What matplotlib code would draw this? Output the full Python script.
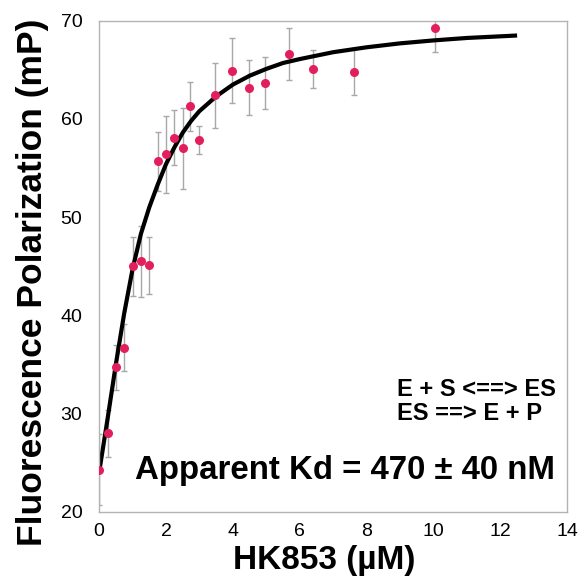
import matplotlib
matplotlib.use('Agg')
import matplotlib.pyplot as plt

plt.rcParams['font.family'] = ['Liberation Sans', 'DejaVu Sans']

# measured points (HK853 uM, polarization mP, error)
conc = [0.0, 0.26, 0.51, 0.75, 1.0, 1.25, 1.5, 1.75, 2.0, 2.24, 2.5, 2.73, 2.98,
        3.48, 3.97, 4.47, 4.95, 5.68, 6.41, 7.63, 10.04]
mp = [24.3, 28.0, 34.7, 36.7, 45.0, 45.5, 45.1, 55.7, 56.4, 58.1, 57.0, 61.3, 57.9,
      62.4, 64.9, 63.2, 63.7, 66.6, 65.1, 64.8, 69.3]
err = [3.6, 2.4, 2.3, 2.4, 3.0, 3.6, 2.9, 3.0, 3.9, 2.8, 4.15, 2.5, 1.43,
       3.33, 3.3, 2.8, 2.65, 2.65, 1.95, 2.4, 2.45]

# fitted curve
fit_x = [0.0, 0.25, 0.5, 0.75, 1.0, 1.25, 1.5, 1.75, 2.0, 2.25, 2.5, 2.75, 3.0, 3.5,
         4.0, 4.5, 5.0, 5.5, 6.0, 7.0, 8.0, 9.0, 10.0, 11.0, 12.5]
fit_y = [24.0, 29.4, 35.0, 40.2, 44.7, 48.3, 51.0, 53.3, 55.4, 57.1, 58.6, 59.8, 60.8, 62.3,
         63.5, 64.4, 65.1, 65.7, 66.1, 66.8, 67.3, 67.7, 68.0, 68.25, 68.5]

fig = plt.figure(figsize=(5.83, 5.77), dpi=100)
ax = fig.add_axes([0.170, 0.113, 0.803, 0.851])

ax.errorbar(conc, mp, yerr=err, fmt='none', ecolor='#a8a8a8', elinewidth=1,
            capsize=2, capthick=1, zorder=1)
ax.plot(fit_x, fit_y, color='black', lw=3, solid_capstyle='butt',
        solid_joinstyle='round', zorder=2)
ax.plot(conc, mp, 'o', color='#e21e5c', ms=6.5, mec='none', zorder=3)

ax.set_xlim(0, 14)
ax.set_ylim(20, 70)
ax.set_xticks(range(0, 15, 2))
ax.set_yticks(range(20, 71, 10))
ax.tick_params(length=0, labelsize=14, pad=8)
ax.tick_params(axis='y', pad=12)
for s in ax.spines.values():
    s.set_color('#b3b3b3')
    s.set_linewidth(1)

ax.set_xlabel('HK853 (µM)', fontsize=24, fontweight='bold')
ax.xaxis.set_label_coords(0.481, -0.068)
ax.set_ylabel('Fluorescence Polarization (mP)', fontsize=25.5, fontweight='bold')
ax.yaxis.set_label_coords(-0.107, 0.468)

ax.text(0.637, 0.250, 'E + S <==> ES', transform=ax.transAxes, fontsize=17,
        fontweight='bold', va='center', ha='left')
ax.text(0.637, 0.200, 'ES ==> E + P', transform=ax.transAxes, fontsize=17,
        fontweight='bold', va='center', ha='left')
ax.text(0.974, 0.085, 'Apparent Kd = 470 ± 40 nM', transform=ax.transAxes, fontsize=23.8,
        fontweight='bold', va='center', ha='right')

fig.savefig('out.png', dpi=100)
